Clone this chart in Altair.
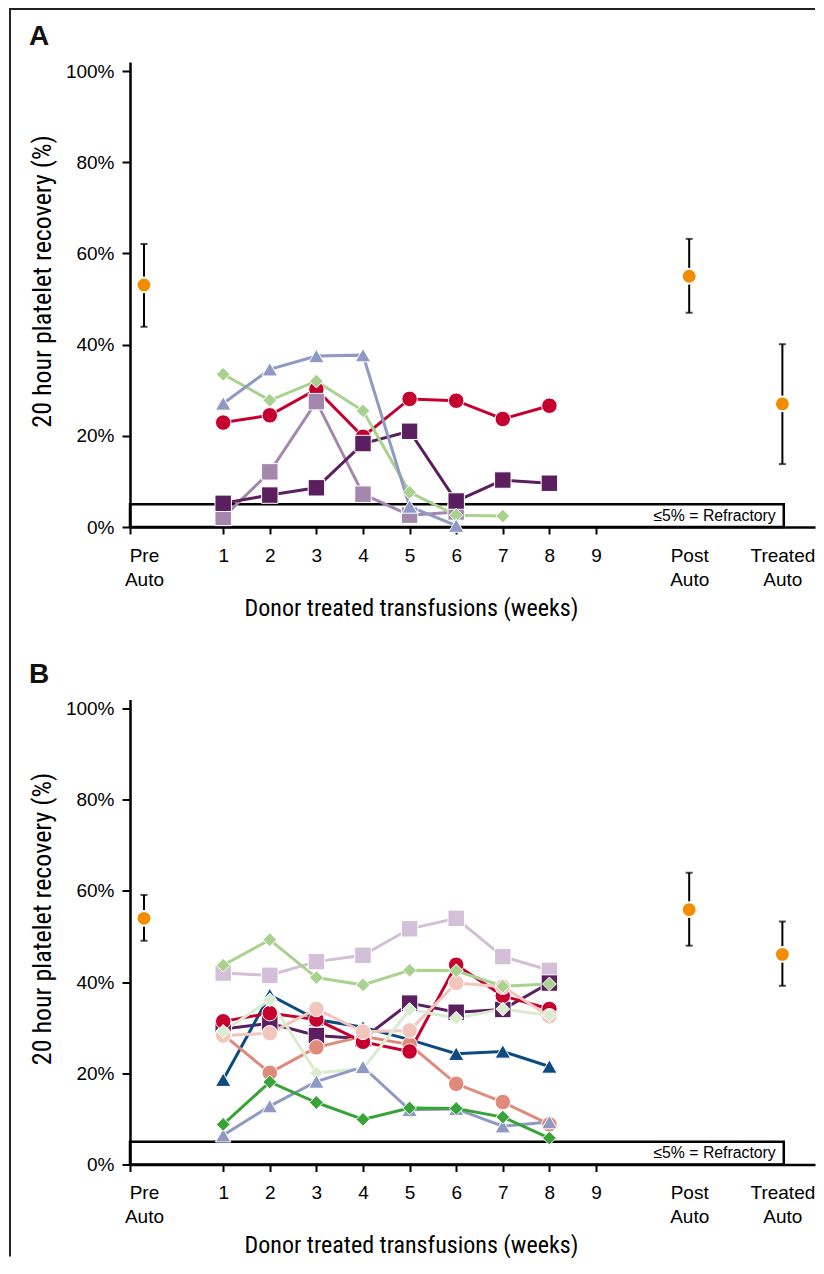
import altair as alt
import pandas as pd

# ---------------- data ----------------
WEEKS = [1, 2, 3, 4, 5, 6, 7, 8]

# Panel A: 20 h platelet recovery (%) per weekly donor-treated transfusion
a_red_circle = [22.9, 24.5, 30.2, 19.8, 28.1, 27.7, 23.7, 26.6]
a_mauve_square = [2.1, 12.1, 27.5, 7.2, 2.6, 3.3]
a_purple_square = [5.2, 7.0, 8.6, 18.3, 21.0, 5.7, 10.3, 9.6]
a_green_diamond = [33.5, 27.8, 32.0, 25.5, 7.6, 2.6, 2.4]
a_blue_triangle = [27.1, 34.6, 37.5, 37.7, 4.5, 0.3]

# Panel A: autologous summary (mean, low, high) for Pre / Post / Treated
a_auto_mean = [53.1, 55.0, 27.0]
a_auto_low = [43.9, 47.0, 13.8]
a_auto_high = [62.1, 63.2, 40.1]

# Panel B
b_lilac_square = [42.0, 41.5, 44.5, 45.9, 51.7, 54.0, 45.6, 42.6]
b_purple_square = [29.7, 31.0, 28.3, 27.6, 35.4, 33.4, 34.0, 39.8]
b_navy_triangle = [18.6, 37.2, 31.8, 30.1, 27.4, 24.3, 24.8, 21.5]
b_salmon_circle = [28.5, 20.1, 25.7, 28.1, 26.3, 17.7, 13.7, 8.8]
b_red_circle = [31.4, 33.2, 31.8, 26.9, 24.8, 43.8, 37.0, 34.1]
b_pink_circle = [28.3, 28.8, 34.1, 29.1, 29.4, 39.8, 39.0, 32.5]
b_green_diamond = [43.7, 49.3, 41.0, 39.4, 42.6, 42.5, 39.1, 39.6]
b_pale_diamond = [29.2, 36.1, 20.1, 21.0, 34.0, 32.1, 34.1, 32.7]
b_blue_triangle = [6.4, 12.8, 18.2, 21.4, 12.0, 12.2, 8.4, 9.3]
b_dkgreen_diamond = [8.8, 18.1, 13.6, 9.9, 12.4, 12.3, 10.4, 5.8]

b_auto_mean = [54.0, 55.9, 46.1]
b_auto_low = [49.1, 48.0, 39.2]
b_auto_high = [59.1, 64.0, 53.3]

SUMMARY_LABELS = [["Pre", "Auto"], ["Post", "Auto"], ["Treated", "Auto"]]
REFRACTORY = 5
REFRACTORY_TEXT = "\u22645% = Refractory"

# ---------------- layout / style ----------------
X_PRE, X_POST, X_TREATED = -0.7, 11, 13
X_SUMMARY = [X_PRE, X_POST, X_TREATED]
X_DOMAIN = [-1, 13.7]
BOX_X = [-1, 13.03]
Y_DOMAIN = [0, 102]
W, H = 685, 465
GAP = 172.5

REG = "Liberation Sans, Arial, Helvetica, sans-serif"
NARROW = "Liberation Sans Narrow, Arial Narrow, Roboto Condensed, DejaVu Sans Condensed, sans-serif"
ORANGE = "#f28c00"

SIZES = {"circle": 240, "square": 270, "triangle-up": 240, "diamond": 190}

a_series = [
    ("a_red", a_red_circle, "#c5002e", "circle"),
    ("a_mauve", a_mauve_square, "#a487ad", "square"),
    ("a_purple", a_purple_square, "#5b1f5f", "square"),
    ("a_green", a_green_diamond, "#a9d28f", "diamond"),
    ("a_blue", a_blue_triangle, "#8e9ac4", "triangle-up"),
]
b_series = [
    ("b_lilac", b_lilac_square, "#d3bfd8", "square"),
    ("b_purple", b_purple_square, "#5b1f5f", "square"),
    ("b_navy", b_navy_triangle, "#0d4a80", "triangle-up"),
    ("b_salmon", b_salmon_circle, "#e08a7c", "circle"),
    ("b_red", b_red_circle, "#c5002e", "circle"),
    ("b_pink", b_pink_circle, "#f2c5bd", "circle"),
    ("b_green", b_green_diamond, "#a9d28f", "diamond"),
    ("b_pale", b_pale_diamond, "#d9ecd0", "diamond"),
    ("b_blue", b_blue_triangle, "#8e9ac4", "triangle-up"),
    ("b_dkgreen", b_dkgreen_diamond, "#38a337", "diamond"),
]

X_TICKS = [-1, X_PRE] + list(range(1, 10)) + [X_POST, X_TREATED]
label_expr = (
    f"datum.value == {X_PRE} ? {SUMMARY_LABELS[0]} : "
    f"datum.value == {X_POST} ? {SUMMARY_LABELS[1]} : "
    f"datum.value == {X_TREATED} ? {SUMMARY_LABELS[2]} : "
    "datum.value < 0 ? '' : datum.label"
)

x_axis = alt.Axis(
    values=X_TICKS,
    labelExpr=label_expr,
    tickOpacity={"condition": {"test": f"datum.value == {X_PRE} || datum.value > 9", "value": 0}, "value": 1},
    labelOverlap=False,
    labelFlush=False,
    labelLineHeight=24,
    labelPadding=12,
    tickSize=7,
    labelFontSize=19,
    labelFont=REG,
    title="Donor treated transfusions (weeks)",
    titleFont=NARROW,
    titleFontSize=24,
    titleFontWeight="normal",
    titleX=281,
    titleY=88,
    titleBaseline="alphabetic",
    titleAlign="center",
    grid=False,
)
y_axis = alt.Axis(
    values=[0, 20, 40, 60, 80, 100],
    labelExpr="datum.value + '%'",
    tickSize=8,
    labelPadding=8,
    labelFontSize=19,
    labelFont=REG,
    title="20 hour platelet recovery (%)",
    titleFont=NARROW,
    titleFontSize=26,
    titleFontWeight="normal",
    titleAngle=-90,
    titleX=-80,
    titleY=219,
    titleBaseline="alphabetic",
    titleAlign="center",
    grid=False,
)
xs = alt.Scale(domain=X_DOMAIN, nice=False, zero=False)
ys = alt.Scale(domain=Y_DOMAIN, nice=False)


def X(field):
    return alt.X(f"{field}:Q", scale=xs, axis=x_axis)


def Y(field):
    return alt.Y(f"{field}:Q", scale=ys, axis=y_axis)


def panel(letter, series, means, lows, highs, top_ext, bottom_ext, top_border):
    rows = []
    for name, values, color, shape in series:
        for w, v in zip(WEEKS, values):
            rows.append({"series": name, "x": w, "y": v, "color": color,
                         "shape": shape, "size": SIZES[shape]})
    df = pd.DataFrame(rows)
    summ = pd.DataFrame({"x": X_SUMMARY, "y": means, "lo": lows, "hi": highs})
    box = pd.DataFrame({"x": [BOX_X[0]], "x2": [BOX_X[1]], "y": [0],
                        "y2": [REFRACTORY], "ymid": [REFRACTORY / 2],
                        "label": [REFRACTORY_TEXT]})
    one = pd.DataFrame({"letter": [letter]})

    rect = alt.Chart(box).mark_rect(fillOpacity=0, stroke="black", strokeWidth=2.5).encode(
        x=X("x"), x2="x2:Q", y=Y("y"), y2="y2:Q")
    rtext = alt.Chart(box).mark_text(align="right", baseline="middle", dx=-8,
                                     fontSize=15.8, font=REG, color="black").encode(
        x=X("x2"), y=Y("ymid"), text="label:N")
    lines = alt.Chart(df).mark_line(strokeWidth=3).encode(
        x=X("x"), y=Y("y"), detail="series:N",
        stroke=alt.Stroke("color:N", scale=None))
    pts = alt.Chart(df).mark_point(filled=True, opacity=1, stroke="white", strokeWidth=1).encode(
        x=X("x"), y=Y("y"),
        fill=alt.Fill("color:N", scale=None),
        shape=alt.Shape("shape:N", scale=None),
        size=alt.Size("size:Q", scale=None))
    bars = alt.Chart(summ).mark_rule(color="black", strokeWidth=2).encode(
        x=X("x"), y=Y("lo"), y2="hi:Q")
    cap_lo = alt.Chart(summ).mark_tick(orient="horizontal", size=7, thickness=2, color="black").encode(
        x=X("x"), y=Y("lo"))
    cap_hi = alt.Chart(summ).mark_tick(orient="horizontal", size=7, thickness=2, color="black").encode(
        x=X("x"), y=Y("hi"))
    opts = alt.Chart(summ).mark_point(filled=True, opacity=1, fill=ORANGE, stroke="white",
                                      strokeWidth=2, size=220, shape="circle").encode(
        x=X("x"), y=Y("y"))
    lab = alt.Chart(one).mark_text(align="left", baseline="alphabetic", fontSize=28,
                                   fontWeight="bold", font=REG, color="#111").encode(
        x=alt.value(-101), y=alt.value(-17), text="letter:N")
    left_border = alt.Chart(one).mark_rule(color="#222", strokeWidth=2).encode(
        x=alt.value(-120), y=alt.value(-top_ext), y2=alt.value(bottom_ext))
    layers = [rect, rtext, lines, pts, bars, cap_lo, cap_hi, opts, lab, left_border]
    if top_border:
        layers.append(alt.Chart(one).mark_rule(color="#222", strokeWidth=2).encode(
            x=alt.value(-121), x2=alt.value(W), y=alt.value(-top_ext)))
    return alt.layer(*layers).properties(width=W, height=H)


panel_a = panel("A", a_series, a_auto_mean, a_auto_low, a_auto_high, 53, H + GAP, True)
panel_b = panel("B", b_series, b_auto_mean, b_auto_low, b_auto_high, GAP + 20, 557, False)

chart = (
    alt.vconcat(panel_a, panel_b, spacing=GAP, bounds="flush")
    .properties(padding=0)
    .configure_view(stroke=None)
    .configure_axis(domainColor="black", domainWidth=2.5, tickColor="black", tickWidth=2,
                    labelColor="black", titleColor="black")
)

chart.save("out.html", embed_options={"renderer": "svg", "actions": False})
